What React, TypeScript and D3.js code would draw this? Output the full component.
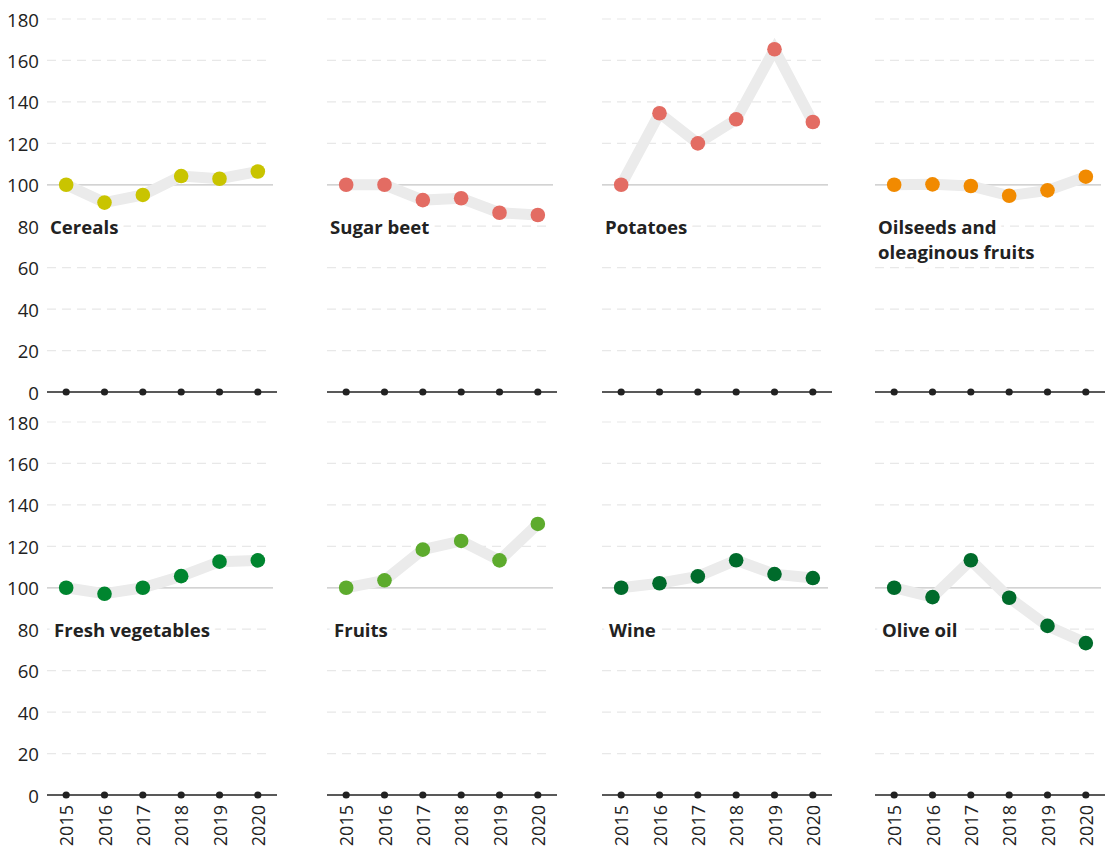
import React from "react";
import * as d3 from "d3";

const years = ["2015", "2016", "2017", "2018", "2019", "2020"];
const yTicks = [0, 20, 40, 60, 80, 100, 120, 140, 160, 180];

const categories = [
  "Cereals",
  "Sugar beet",
  "Potatoes",
  "Oilseeds and oleaginous fruits",
  "Fresh vegetables",
  "Fruits",
  "Wine",
  "Olive oil",
];
const labelLines = [
  ["Cereals"],
  ["Sugar beet"],
  ["Potatoes"],
  ["Oilseeds and", "oleaginous fruits"],
  ["Fresh vegetables"],
  ["Fruits"],
  ["Wine"],
  ["Olive oil"],
];

const cereals = [100, 91.4, 95.1, 104.2, 102.9, 106.4];
const sugarBeet = [100, 100, 92.6, 93.5, 86.5, 85.4];
const potatoes = [100, 134.5, 120, 131.6, 165.4, 130.3];
const oilseeds = [100, 100.2, 99.4, 94.7, 97.3, 103.9];
const freshVegetables = [100, 97.1, 100, 105.6, 112.6, 113.2];
const fruits = [100, 103.6, 118.4, 122.6, 113.2, 130.8];
const wine = [100, 102.2, 105.5, 113.3, 106.6, 104.7];
const oliveOil = [100, 95.5, 113.3, 95.2, 81.6, 73.3];

const seriesValues = [cereals, sugarBeet, potatoes, oilseeds, freshVegetables, fruits, wine, oliveOil];
const colors = ["#c9c400", "#e36c63", "#e36c63", "#f18a00", "#00852f", "#5dab2d", "#006b2b", "#006b2b"];

const FONT = "'Open Sans', 'Noto Sans', sans-serif";
const panelLefts = [47, 327, 602, 875];
const panelWidth = 230;
const rowBottoms = [392, 795];
const rowTops = [19, 422];
const labelOffsets = [3, 7];

function Panel({ idx }: { idx: number }) {
  const col = idx % 4;
  const row = Math.floor(idx / 4);
  const left = panelLefts[col];
  const x = d3.scalePoint<string>().domain(years).range([left, left + panelWidth]).padding(0.5);
  const y = d3.scaleLinear().domain([0, 180]).range([rowBottoms[row], rowTops[row]]);
  const vals = seriesValues[idx];
  const line = d3
    .line<number>()
    .x((_, i) => x(years[i]) as number)
    .y((d) => y(d));
  return (
    <g>
      {yTicks
        .filter((t) => t !== 0 && t !== 100)
        .map((t) => (
          <line
            key={t}
            x1={left}
            x2={left + panelWidth - 6}
            y1={y(t)}
            y2={y(t)}
            stroke="#e8e8e8"
            strokeWidth={1.2}
            strokeDasharray="9,6"
          />
        ))}
      <line x1={left} x2={left + panelWidth - 4} y1={y(100)} y2={y(100)} stroke="#c4c4c4" strokeWidth={1.2} />
      {labelLines[idx].map((l, i) => (
        <text
          key={i}
          x={left + labelOffsets[row]}
          y={y(80) + i * 25}
          dominantBaseline="central"
          fontFamily={FONT}
          fontWeight={700}
          fontSize={18.6}
          fill="#222"
          stroke="#fff"
          strokeWidth={12}
          strokeLinejoin="round"
          paintOrder="stroke"
        >
          {l}
        </text>
      ))}
      <path d={line(vals) || ""} fill="none" stroke="#ebebeb" strokeWidth={11} strokeLinejoin="miter" />
      {vals.map((v, i) => (
        <circle key={i} cx={x(years[i])} cy={y(v)} r={7.3} fill={colors[idx]} />
      ))}
      <line x1={left} x2={left + panelWidth} y1={y(0)} y2={y(0)} stroke="#222" strokeWidth={1.5} />
      {years.map((yr) => (
        <circle key={yr} cx={x(yr)} cy={y(0)} r={3.6} fill="#222" />
      ))}
      {row === 1 &&
        years.map((yr) => (
          <text
            key={yr}
            transform={`translate(${x(yr)},${y(0) + 10}) rotate(-90)`}
            textAnchor="end"
            dominantBaseline="central"
            fontFamily={FONT}
            fontSize={18}
            fill="#222"
          >
            {yr}
          </text>
        ))}
    </g>
  );
}

export default function App() {
  return (
    <svg
      width={1106}
      height={848}
      style={{ position: "absolute", left: 0, top: 0, background: "#fff" }}
    >
      {rowBottoms.map((_, r) => {
        const y = d3.scaleLinear().domain([0, 180]).range([rowBottoms[r], rowTops[r]]);
        return (
          <g key={r}>
            {yTicks.map((t) => (
              <text
                key={t}
                x={39}
                y={y(t)}
                textAnchor="end"
                dominantBaseline="central"
                fontFamily={FONT}
                fontSize={18.6}
                fill="#222"
              >
                {t}
              </text>
            ))}
          </g>
        );
      })}
      {categories.map((_, i) => (
        <Panel key={i} idx={i} />
      ))}
    </svg>
  );
}
